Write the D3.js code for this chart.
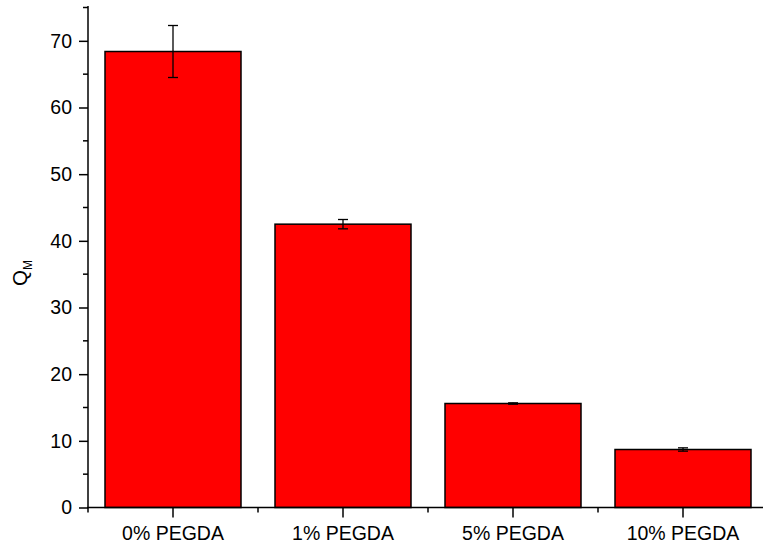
<!DOCTYPE html>
<html>
<head>
<meta charset="utf-8">
<script src="https://cdn.jsdelivr.net/npm/d3@7"></script>
<style>
  html, body { margin: 0; padding: 0; background: #fff; }
  svg { display: block; font-family: "Liberation Sans", Arial, sans-serif; }
</style>
</head>
<body>
<svg id="chart" width="763" height="549"></svg>
<script>
// Swelling ratio Q_M per PEGDA content
const categories = ["0% PEGDA", "1% PEGDA", "5% PEGDA", "10% PEGDA"];
const values = [68.4, 42.5, 15.6, 8.7];
const errors = [3.9, 0.7, 0.1, 0.25];
const yTicks = [0, 10, 20, 30, 40, 50, 60, 70];
const yMinorTicks = [5, 15, 25, 35, 45, 55, 65, 75];

const svg = d3.select("#chart");
const plotLeft = 88, plotBottom = 507.5, plotTop = 7.5, plotRight = 768;

const x = d3.scaleBand()
  .domain(categories)
  .range([plotLeft, plotRight])
  .paddingInner(0.2)
  .paddingOuter(0.1);

const y = d3.scaleLinear()
  .domain([0, 75])
  .range([plotBottom, plotTop]);

// bars
svg.append("g")
  .selectAll("rect")
  .data(values)
  .join("rect")
  .attr("x", (d, i) => x(categories[i]))
  .attr("y", d => y(d))
  .attr("width", x.bandwidth())
  .attr("height", d => plotBottom - y(d))
  .attr("fill", "#ff0000")
  .attr("stroke", "#000")
  .attr("stroke-width", 1.5);

// error bars
const eb = svg.append("g").attr("stroke", "#000").attr("stroke-width", 1.3);
values.forEach((v, i) => {
  const cx = x(categories[i]) + x.bandwidth() / 2;
  const y1 = y(v + errors[i]), y2 = y(v - errors[i]);
  eb.append("line").attr("x1", cx).attr("x2", cx).attr("y1", y1).attr("y2", y2);
  eb.append("line").attr("x1", cx - 5).attr("x2", cx + 5).attr("y1", y1).attr("y2", y1);
  eb.append("line").attr("x1", cx - 5).attr("x2", cx + 5).attr("y1", y2).attr("y2", y2);
});

// y axis
const yAxis = svg.append("g")
  .attr("transform", `translate(${plotLeft},0)`)
  .call(d3.axisLeft(y).tickValues(yTicks).tickSize(9).tickPadding(7).tickSizeOuter(0));
yAxis.select(".domain").remove();
yAxis.selectAll(".tick line").attr("stroke-width", 1.5);
yAxis.selectAll(".tick text")
  .attr("font-size", 19.5)
  .attr("font-family", "Liberation Sans, Arial, sans-serif")
  .attr("fill", "#000");
svg.append("g").selectAll("line")
  .data(yMinorTicks)
  .join("line")
  .attr("x1", plotLeft - 5).attr("x2", plotLeft)
  .attr("y1", d => y(d)).attr("y2", d => y(d))
  .attr("stroke", "#000").attr("stroke-width", 1.5);
svg.append("line")
  .attr("x1", plotLeft).attr("x2", plotLeft)
  .attr("y1", plotTop - 1.5).attr("y2", plotBottom + 0.75)
  .attr("stroke", "#000").attr("stroke-width", 1.5);

// x axis
const xAxis = svg.append("g")
  .attr("transform", `translate(0,${plotBottom})`)
  .call(d3.axisBottom(x).tickSize(10).tickPadding(9).tickSizeOuter(0));
xAxis.select(".domain").remove();
xAxis.selectAll(".tick line").attr("stroke-width", 1.5);
xAxis.selectAll(".tick text")
  .attr("font-size", 19.5)
  .attr("font-family", "Liberation Sans, Arial, sans-serif")
  .attr("fill", "#000");
// minor ticks on the boundaries between categories
const bounds = d3.range(categories.length + 1).map(i => plotLeft + i * x.step());
svg.append("g").selectAll("line")
  .data(bounds)
  .join("line")
  .attr("x1", d => d).attr("x2", d => d)
  .attr("y1", plotBottom).attr("y2", plotBottom + 5)
  .attr("stroke", "#000").attr("stroke-width", 1.5);
svg.append("line")
  .attr("x1", plotLeft - 0.75).attr("x2", plotRight)
  .attr("y1", plotBottom).attr("y2", plotBottom)
  .attr("stroke", "#000").attr("stroke-width", 1.5);

// y axis title
const title = svg.append("text")
  .attr("transform", "translate(27,273) rotate(-90)")
  .attr("text-anchor", "middle")
  .attr("font-size", 20.5)
  .attr("fill", "#000");
title.append("tspan").text("Q");
title.append("tspan").attr("font-size", 12).attr("dy", 5).text("M");
</script>
</body>
</html>
